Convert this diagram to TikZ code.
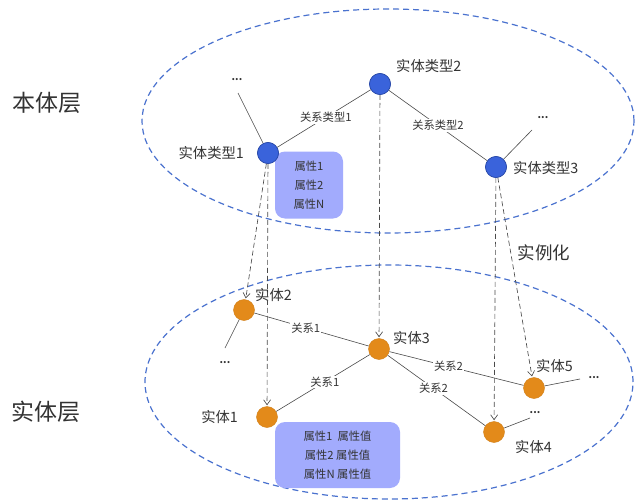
\documentclass[tikz,border=0pt]{standalone}
\usepackage{fontspec}
\setmainfont{Noto Sans CJK SC}
\usetikzlibrary{arrows.meta}
\definecolor{ellblue}{HTML}{4A72CF}
\definecolor{nodeblue}{HTML}{3A63DB}
\definecolor{nodeblueb}{HTML}{2A4AA8}
\definecolor{nodeorange}{HTML}{E38A1A}
\definecolor{boxfill}{HTML}{A2ABFD}
\definecolor{txt}{HTML}{333333}
\definecolor{ln}{HTML}{4A4A4A}
\begin{document}
\begin{tikzpicture}[x=1pt,y=-1pt,
 ell/.style={ellblue, line width=1.2pt, dash pattern=on 6pt off 4pt},
 typenode/.style={circle, fill=nodeblue, draw=nodeblueb, line width=0.6pt, minimum size=21pt, inner sep=0pt},
 instnode/.style={circle, fill=nodeorange, draw=nodeorange!92!black, line width=0.4pt, minimum size=21pt, inner sep=0pt},
 lbl/.style={text=txt, font=\fontsize{14.3}{16}\selectfont, inner sep=0pt},
 rel/.style={text=txt, font=\fontsize{11.3}{12}\selectfont, fill=white, inner sep=1pt},
 dots/.style={text=txt, font=\fontsize{10}{11}\bfseries\selectfont, inner sep=0pt},
 link/.style={ln, line width=0.6pt},
 instof/.style={ln, line width=0.65pt, dash pattern=on 5pt off 3pt, -{Straight Barb[length=5pt,width=7pt]}, shorten >=1pt},
 attbox/.style={fill=boxfill, rounded corners=10pt, text=txt, font=\fontsize{11.3}{19}\selectfont, align=center, inner sep=0pt},
 layer/.style={text=txt, font=\fontsize{23}{25}\selectfont, inner sep=0pt}
]
\useasboundingbox (0,0) rectangle (635,503);
\fill[white] (0,0) rectangle (635,503);

% layers
\draw[ell] (388,121) ellipse [x radius=246pt, y radius=112pt];
\draw[ell] (389,382) ellipse [x radius=244pt, y radius=117pt];

\node[layer] (Lont) at (47,103) {本体层};
\node[layer] (Lent) at (46,412) {实体层};
\node[text=txt, font=\fontsize{17.5}{19}\selectfont, inner sep=0pt] (Linst) at (544,253) {实例化};

% attribute boxes
\node[attbox, minimum width=68pt, minimum height=67pt] (box1) at (309,185) {属性1\\属性2\\属性N};
\node[attbox, minimum width=125pt, minimum height=66pt] (box2) at (337.5,455) {属性1~~属性值\\属性2 属性值\\属性N 属性值};

% type nodes
\node[typenode] (t1) at (268,153) {};
\node[typenode] (t2) at (380,84) {};
\node[typenode] (t3) at (496,167) {};
\node[lbl, anchor=east] (t1l) at (244,153) {实体类型1};
\node[lbl, anchor=west] (t2l) at (396,66) {实体类型2};
\node[lbl, anchor=west] (t3l) at (513,168) {实体类型3};

% instance nodes
\node[instnode] (e1) at (267,417) {};
\node[instnode] (e2) at (244,310) {};
\node[instnode] (e3) at (379,349) {};
\node[instnode] (e4) at (494,432) {};
\node[instnode] (e5) at (534,388) {};
\node[lbl, anchor=east] (e1l) at (238,417) {实体1};
\node[lbl, anchor=west] (e2l) at (255,295) {实体2};
\node[lbl, anchor=west] (e3l) at (393,338) {实体3};
\node[lbl, anchor=west] (e4l) at (515,447) {实体4};
\node[lbl, anchor=west] (e5l) at (536,366) {实体5};

% dots
\node[dots] (d1) at (237,80) {...};
\node[dots] (d2) at (543,118) {...};
\node[dots] (d3) at (225,363) {...};
\node[dots] (d4) at (594,378) {...};
\node[dots] (d5) at (535,413) {...};
\coordinate (c1) at (238,93);
\coordinate (c2) at (532,130);
\coordinate (c3) at (225,348);
\coordinate (c4) at (580,379);
\coordinate (c5) at (530,418);

% links
\draw[link] (t1) -- (c1);
\draw[link] (t3) -- (c2);
\draw[link] (e2) -- (c3);
\draw[link] (e5) -- (c4);
\draw[link] (e4) -- (c5);
\draw[link] (t1) -- node[rel, pos=0.52] {关系类型1} (t2);
\draw[link] (t2) -- node[rel, pos=0.5] {关系类型2} (t3);
\draw[link] (e2) -- node[rel, pos=0.45] {关系1} (e3);
\draw[link] (e1) -- node[rel, pos=0.52] {关系1} (e3);
\draw[link] (e3) -- node[rel, pos=0.44] {关系2} (e5);
\draw[link] (e3) -- node[rel, pos=0.47] {关系2} (e4);

% instantiation
\draw[instof] (t1) -- (e2);
\draw[instof] (t1) -- (e1);
\draw[instof] (t2) -- (e3);
\draw[instof] (t3) -- (e4);
\draw[instof] (t3) -- (e5);

% redraw nodes on top
\node[typenode] at (t1) {};
\node[typenode] at (t2) {};
\node[typenode] at (t3) {};
\end{tikzpicture}
\end{document}
